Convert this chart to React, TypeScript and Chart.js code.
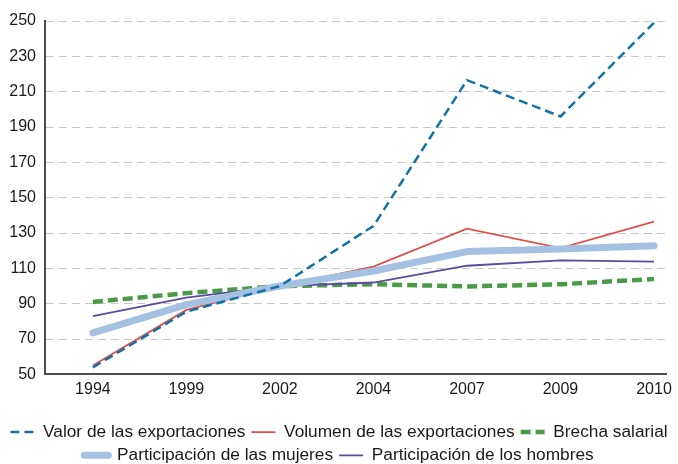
import React, { useEffect, useRef } from "react";
import { Chart, registerables } from "chart.js";

Chart.register(...registerables);

const years = ["1994", "1999", "2002", "2004", "2007", "2009", "2010"];
const valorExportaciones = [54, 85.5, 100, 134, 216.5, 196, 249];
const volumenExportaciones = [55, 86.5, 100, 111, 132.5, 121.5, 136.5];
const brechaSalarial = [91, 96, 100, 101, 99.8, 101, 104];
const participacionMujeres = [73.5, 89.5, 100, 108.5, 119.5, 121, 122.8];
const participacionHombres = [83, 93.5, 100, 102, 111.5, 114.5, 113.8];
const yTicks = [50, 70, 90, 110, 130, 150, 170, 190, 210, 230, 250];

const toPoints = (vals: number[]) => vals.map((v, i) => ({ x: i, y: v }));

export default function App() {
  const ref = useRef<HTMLCanvasElement | null>(null);
  useEffect(() => {
    document.body.style.margin = "0";
    const canvas = ref.current;
    if (!canvas) return;
    Chart.defaults.font.family = '"Liberation Sans", Arial, sans-serif';
    Chart.defaults.color = "#1a1a1a";
    const chart = new Chart(canvas, {
      type: "line",
      data: {
        datasets: [
          {
            label: "Valor de las exportaciones",
            data: toPoints(valorExportaciones),
            borderColor: "#1272a6",
            backgroundColor: "#1272a6",
            borderWidth: 2.5,
            borderDash: [9, 5],
            order: 0,
          },
          {
            label: "Volumen de las exportaciones",
            data: toPoints(volumenExportaciones),
            borderColor: "#e0504c",
            backgroundColor: "#e0504c",
            borderWidth: 1.8,
            order: 2,
          },
          {
            label: "Brecha salarial",
            data: toPoints(brechaSalarial),
            borderColor: "#4b9a47",
            backgroundColor: "#4b9a47",
            borderWidth: 4.5,
            borderDash: [10, 5],
            order: 4,
          },
          {
            label: "Participación de las mujeres",
            data: toPoints(participacionMujeres),
            borderColor: "#a5c1e1",
            backgroundColor: "#a5c1e1",
            borderWidth: 7,
            borderCapStyle: "round",
            borderJoinStyle: "round",
            order: 1,
          },
          {
            label: "Participación de los hombres",
            data: toPoints(participacionHombres),
            borderColor: "#5a4aa0",
            backgroundColor: "#5a4aa0",
            borderWidth: 1.8,
            order: 3,
          },
        ],
      },
      options: {
        animation: false,
        responsive: false,
        devicePixelRatio: 1,
        layout: { padding: { left: 0, right: 0, top: 21, bottom: 0 } },
        elements: { point: { radius: 0, hoverRadius: 0 }, line: { tension: 0 } },
        plugins: {
          tooltip: { enabled: false },
          legend: {
            position: "bottom",
            labels: {
              usePointStyle: true,
              pointStyle: "line",
              pointStyleWidth: 24,
              boxHeight: 17,
              padding: 6,
              font: { size: 17.3 },
              color: "#1a1a1a",
              sort: (a: any, b: any) => a.datasetIndex - b.datasetIndex,
              generateLabels: (c: any) => {
                const items = Chart.defaults.plugins.legend.labels.generateLabels(c);
                return items.map((it: any) => {
                  const ds: any = c.data.datasets[it.datasetIndex];
                  return {
                    ...it,
                    lineDash: ds.borderDash || [],
                    lineWidth: ds.borderWidth,
                    strokeStyle: ds.borderColor,
                    lineCap: ds.borderCapStyle || "butt",
                  };
                });
              },
            },
          },
        },
        scales: {
          x: {
            type: "linear",
            min: -0.512,
            max: 6.139,
            afterBuildTicks: (scale: any) => {
              scale.ticks = years.map((_, i) => ({ value: i }));
            },
            afterFit: (scale: any) => {
              scale.height = 43;
            },
            ticks: {
              callback: (v: any) => years[v as number] ?? "",
              font: { size: 16 },
              color: "#1a1a1a",
              padding: 6,
              maxRotation: 0,
              autoSkip: false,
            },
            grid: { display: false, drawTicks: false },
            border: { display: true, color: "#4d4d4d", width: 2 },
          },
          y: {
            min: 50,
            max: 250,
            afterBuildTicks: (scale: any) => {
              scale.ticks = yTicks.map((v) => ({ value: v }));
            },
            afterFit: (scale: any) => {
              scale.width = 45;
            },
            ticks: {
              font: { size: 16 },
              color: "#1a1a1a",
              padding: 9,
            },
            grid: { color: "#c8c8c8", lineWidth: 1, drawTicks: false },
            border: { display: true, color: "#4d4d4d", width: 2, dash: [8, 5] },
          },
          yRight: {
            type: "linear",
            position: "right",
            display: true,
            afterFit: (scale: any) => {
              scale.width = 10;
            },
            ticks: { display: false },
            grid: { display: false, drawTicks: false },
            border: { display: false },
          },
        },
      },
    });
    return () => chart.destroy();
  }, []);
  return (
    <div style={{ width: 678, height: 464, overflow: "hidden", position: "relative" }}>
      <canvas ref={ref} width={678} height={474} style={{ display: "block" }} />
    </div>
  );
}
